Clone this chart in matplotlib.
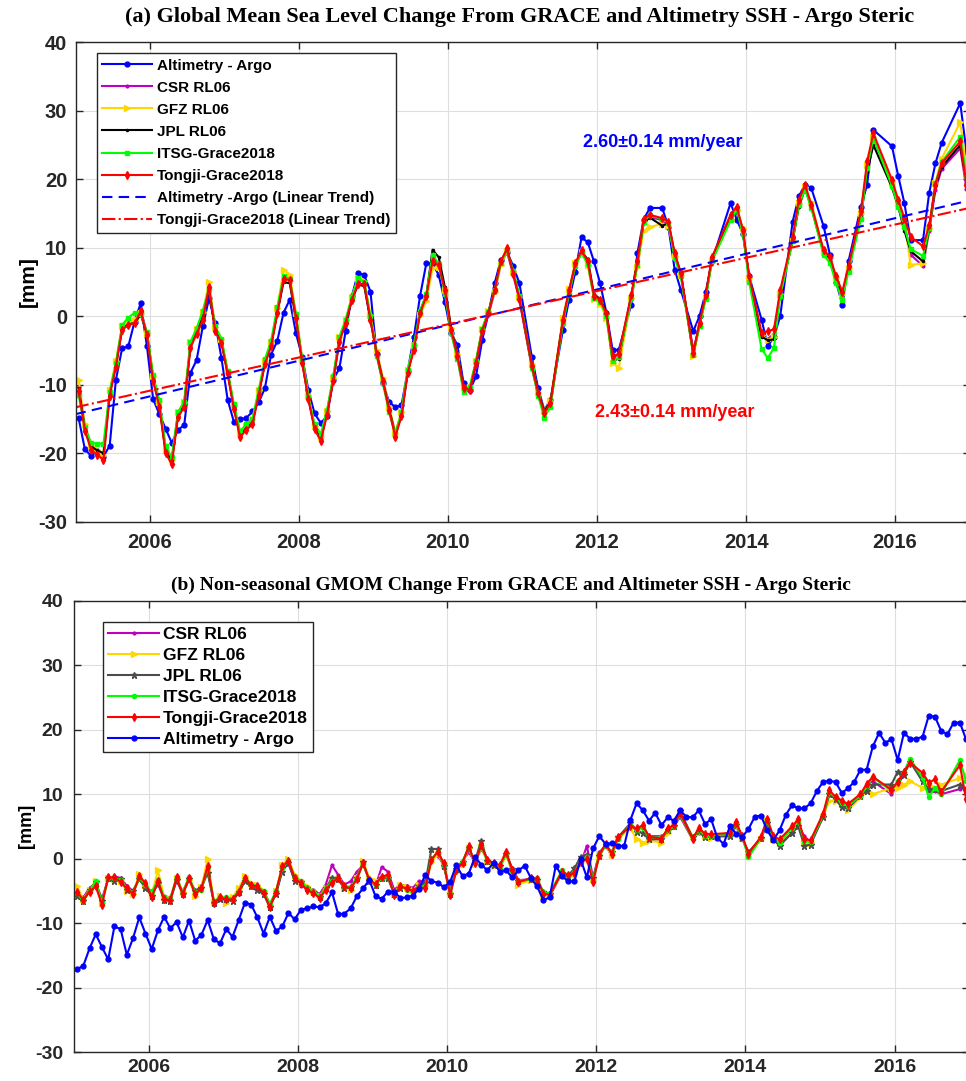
import numpy as np
import matplotlib.pyplot as plt

plt.rcParams['font.family'] = ['Liberation Sans', 'DejaVu Sans']
plt.rcParams['font.weight'] = 'bold'
plt.rcParams['axes.labelweight'] = 'bold'
plt.rcParams['axes.unicode_minus'] = False

# monthly time axis, 2005-2016 (mid-month, decimal years)
years = np.arange(2005, 2017)
t = (years[:, None] + (np.arange(12) + 0.5) / 12).ravel()

# ---------------- (a) GMSL change, mm (None = GRACE gap month) ----------------
alt_a = [
    -14.9, -19.4, -20.4, -19.7, -20.5, -18.9, -9.3, -4.7, -4.4, -0.8, 1.9, -4.4,
    -12.1, -14.3, -16.4, -18.5, -16.6, -15.9, -8.3, -6.4, -1.5, 2.6, -1.0, -6.1,
    -12.2, -15.4, -15.0, -14.9, -13.9, -12.6, -10.5, -5.6, -3.6, 0.5, 2.4, -2.5,
    -5.9, -10.8, -14.2, -15.6, -14.6, -9.3, -7.6, -2.2, 2.9, 6.3, 6.0, 3.6,
    -5.5, -9.8, -12.5, -13.3, -13.0, -8.0, -3.0, 3.0, 7.7, 7.7, 6.0, 2.0,
    -2.5, -4.2, -9.8, -10.8, -8.8, -3.5, 0.4, 4.8, 8.2, 9.4, 7.3, 4.8,
    None, -6.0, -10.5, -13.7, -12.2, None, -2.0, 2.4, 6.5, 11.5, 10.8, 8.0,
    4.8, 0.5, -4.9, -4.9, None, 1.7, 9.2, 14.1, 15.8, None, 15.8, 13.0,
    6.8, 3.8, None, -2.2, 0.0, 3.5, 8.0, None, None, 16.5, 14.1, 12.0,
    5.8, None, -0.5, -4.4, -3.0, 0.0, None, 13.8, 17.5, 19.2, 18.7, None,
    13.1, 9.0, 5.0, 1.7, 8.0, None, 16.0, 19.2, 27.2, None, None, 24.8,
    20.5, 16.5, 11.1, None, 11.1, 18.0, 22.3, 25.3, None, None, 31.1, 24.0]

csr_a = [
    -10.3, -16.0, -18.8, -19.8, -20.6, -11.2, -7.0, -1.7, -1.0, -0.6, 0.9, -2.5,
    -9.0, -12.8, -19.3, -21.0, -14.3, -12.8, -4.3, -2.2, -0.2, 3.6, -2.0, -3.6,
    -8.2, -13.2, -17.2, -16.2, -15.5, -11.2, -6.8, -4.0, 0.6, 5.6, 5.5, 0.0,
    -6.5, -11.8, -16.2, -17.8, -14.0, -9.0, -3.4, -0.8, 2.6, 5.0, 5.0, -0.3,
    -5.2, -9.2, -13.4, -17.0, -14.2, -8.0, -4.6, 0.6, 3.1, 8.3, 7.6, 3.5,
    -2.3, -6.0, -10.8, -11.0, -7.2, -2.5, 0.2, 3.5, 7.6, 9.4, 6.0, 2.3,
    None, -7.5, -11.5, -14.3, -13.0, None, -0.8, 3.5, 7.4, 9.3, 7.8, 2.8,
    2.2, 0.2, -6.0, -5.6, None, 2.8, 7.6, 13.7, 14.5, None, 14.0, 13.4,
    9.0, 6.0, None, -5.0, -1.2, 2.8, 8.2, None, None, 14.4, 15.6, 12.4,
    5.4, None, -2.9, -3.3, -2.6, 3.4, None, 11.2, 16.5, 18.7, 16.0, None,
    9.2, 8.3, 5.4, 3.0, 7.0, None, 14.8, 22.0, 26.0, None, None, 19.3,
    16.4, 13.6, 9.0, None, 7.3, 12.5, 18.4, 21.5, None, None, 24.5, 18.6]

gfz_a = [
    -9.3, -15.8, -19.0, -19.6, -20.3, -10.8, -6.6, -1.5, -1.0, -0.5, 0.4, -2.4,
    -8.8, -12.6, -19.5, -21.0, -14.0, -12.5, -3.8, -1.8, 0.6, 5.0, -1.6, -3.3,
    -8.0, -13.0, -17.0, -16.0, -15.0, -10.8, -6.5, -3.8, 1.2, 6.8, 6.0, 0.4,
    -6.2, -11.5, -16.0, -17.6, -13.8, -9.0, -3.1, -0.6, 2.8, 5.5, 5.2, 0.2,
    -5.0, -9.0, -13.2, -17.0, -14.0, -7.8, -4.2, 0.2, 2.2, 7.0, 7.2, 3.8,
    -1.7, -5.5, -10.3, -10.3, -6.5, -1.8, 0.7, 3.5, 7.5, 9.5, 6.5, 2.8,
    None, -7.0, -11.0, -13.8, -12.4, None, -0.2, 4.0, 7.8, 9.4, 7.5, 2.5,
    1.8, -0.2, -6.8, -7.6, None, 2.6, 7.2, 12.5, 13.0, None, 13.5, 13.2,
    8.8, 6.0, None, -5.8, -1.5, 2.6, 8.0, None, None, 14.0, 15.5, 12.8,
    5.5, None, -2.8, -3.5, -3.0, 3.2, None, 11.0, 16.5, 18.8, 16.6, None,
    9.4, 8.5, 5.5, 3.2, 7.0, None, 15.0, 22.0, 26.2, None, None, 19.5,
    16.5, 13.8, 7.5, None, 7.7, 12.8, 19.5, 23.0, None, None, 28.3, 21.5]

jpl_a = [
    -10.5, -16.3, -19.0, -19.6, -20.0, -11.3, -7.2, -1.8, -1.2, -1.0, 0.2, -2.5,
    -9.2, -13.0, -19.7, -21.0, -14.5, -13.0, -4.3, -2.3, 0.0, 3.8, -2.0, -3.7,
    -8.3, -13.3, -17.5, -16.3, -15.5, -11.3, -6.8, -4.2, 0.5, 5.0, 4.8, -0.4,
    -6.6, -12.0, -16.3, -18.0, -14.2, -9.3, -3.5, -0.9, 2.3, 4.6, 4.4, -0.6,
    -5.4, -9.4, -13.5, -17.3, -14.4, -8.2, -4.6, 0.8, 3.0, 9.7, 8.6, 4.2,
    -1.8, -5.6, -10.3, -10.6, -6.8, -2.0, 0.6, 3.9, 8.0, 9.6, 6.5, 2.7,
    None, -7.2, -11.0, -13.9, -12.5, None, -0.6, 3.6, 7.5, 9.4, 8.3, 3.2,
    2.5, 0.6, -6.5, -6.2, None, 2.9, 7.8, 13.6, 14.4, None, 13.2, 13.6,
    9.0, 6.3, None, -5.6, -1.1, 2.9, 8.4, None, None, 14.5, 15.2, 12.2,
    5.6, None, -3.0, -3.5, -3.4, 3.4, None, 11.0, 16.0, 18.6, 16.0, None,
    9.2, 8.5, 5.4, 3.0, 7.0, None, 14.5, 21.0, 25.0, None, None, 18.8,
    16.0, 12.5, 9.5, None, 8.0, 12.8, 19.0, 21.8, None, None, 25.0, 19.5]

itsg_a = [
    -11.5, -16.2, -18.5, -18.6, -18.6, -11.0, -6.9, -1.3, -0.2, 0.5, 0.3, -2.3,
    -8.6, -12.3, -19.0, -20.6, -14.0, -12.5, -3.8, -1.8, 0.8, 4.0, -1.5, -3.3,
    -8.0, -12.8, -16.8, -15.8, -15.0, -10.8, -6.3, -3.6, 1.3, 5.8, 5.4, 0.3,
    -6.2, -11.8, -15.8, -17.2, -13.8, -8.8, -3.0, -0.5, 2.8, 5.5, 5.0, 0.0,
    -5.8, -9.8, -14.0, -17.2, -14.0, -7.8, -4.2, 0.8, 3.2, 9.0, 7.6, 3.3,
    -2.5, -6.2, -11.0, -10.3, -6.5, -1.8, 0.6, 3.8, 7.8, 9.6, 6.6, 2.9,
    None, -7.6, -11.6, -14.8, -13.2, None, -1.0, 3.3, 7.3, 9.2, 7.6, 2.7,
    2.1, 0.0, -6.5, -6.0, None, 2.6, 7.5, 13.8, 14.7, None, 14.2, 13.6,
    8.5, 5.8, None, -5.6, -1.5, 2.5, 8.0, None, None, 14.0, 15.5, 12.0,
    5.0, None, -4.8, -6.1, -4.6, 3.0, None, 11.0, 16.2, 18.5, 15.8, None,
    8.9, 7.8, 4.8, 2.4, 6.5, None, 14.2, 21.6, 26.0, None, None, 19.0,
    16.0, 13.0, 9.8, None, 8.8, 12.8, 19.4, 22.5, None, None, 26.2, 20.5]

tongji_a = [
    -10.9, -16.7, -19.5, -20.2, -21.0, -11.6, -7.4, -2.0, -1.3, -1.0, 0.7, -2.8,
    -9.5, -13.2, -20.0, -21.6, -14.7, -13.3, -4.6, -2.6, -0.5, 4.3, -2.2, -3.9,
    -8.5, -13.5, -17.7, -16.6, -15.8, -11.5, -7.0, -4.4, 0.4, 5.4, 5.3, -0.2,
    -6.8, -12.1, -16.5, -18.2, -14.4, -9.5, -3.7, -1.0, 2.4, 4.7, 4.7, -0.5,
    -5.5, -9.5, -13.7, -17.6, -14.6, -8.3, -4.9, 0.4, 2.9, 8.0, 7.4, 3.8,
    -2.0, -5.8, -10.5, -10.8, -6.9, -2.2, 0.4, 3.8, 8.0, 9.9, 6.2, 2.5,
    None, -7.3, -11.2, -14.1, -12.7, None, -0.5, 3.8, 7.7, 9.6, 8.0, 3.0,
    2.4, 0.4, -5.8, -5.5, None, 3.1, 8.0, 14.2, 14.8, None, 14.3, 13.8,
    9.2, 6.3, None, -5.4, -1.0, 3.1, 8.6, None, None, 14.8, 16.0, 12.6,
    5.8, None, -2.4, -2.2, -1.9, 3.8, None, 11.6, 17.0, 19.2, 16.3, None,
    9.6, 8.7, 5.8, 3.6, 7.3, None, 15.3, 22.6, 26.7, None, None, 19.9,
    17.0, 14.3, 11.6, None, 10.2, 13.3, 19.2, 22.3, None, None, 25.5, 19.2]

# linear trends: values at 2005.0 and 2017.0
trend_years = [2005, 2017]
alt_trend = [-14.3, 16.9]
tongji_trend = [-13.3, 15.8]

# ---------------- (b) non-seasonal GMOM change, mm ----------------
csr_b = [
    -5.5, -6.0, -4.5, -3.8, -6.2, -3.2, -2.7, -3.0, -4.2, -5.0, -3.0, -4.5,
    -5.0, -4.0, -5.8, -6.0, -3.5, -5.0, -3.2, -5.0, -4.3, -1.8, -6.5, -6.3,
    -6.5, -6.0, -5.5, -3.3, -4.0, -4.5, -5.0, -7.0, -5.5, -1.5, -0.8, -3.2,
    -4.2, -4.5, -4.8, -5.5, -4.0, -1.0, -2.5, -4.0, -3.5, -2.0, -1.0, -3.0,
    -4.2, -1.3, -2.0, -4.8, -4.0, -4.2, -4.5, -3.5, -3.5, 0.0, 0.5, -1.0,
    -5.0, -1.5, -0.3, 1.0, -0.5, 1.5, 0.0, -0.8, -1.3, 0.8, -1.5, -3.3,
    None, -3.2, -3.5, -5.2, -5.8, None, -2.3, -3.0, -2.0, -0.8, 2.0, -3.0,
    1.0, 2.0, 0.5, 3.0, None, 5.5, 4.5, 5.0, 3.5, None, 3.5, 4.2,
    5.0, 6.5, None, 3.0, 4.0, 3.5, 3.6, None, None, 3.5, 5.0, 3.0,
    1.0, None, 3.0, 5.5, 3.0, 2.5, None, 4.0, 5.0, 3.5, 2.5, None,
    6.5, 10.0, 9.5, 9.0, 8.0, None, 9.5, 11.5, 12.0, None, None, 10.0,
    11.5, 13.0, 15.5, None, 12.0, 10.5, 10.5, 10.0, None, None, 10.8, 11.0]

gfz_b = [
    -4.3, -6.2, -4.8, -3.5, -6.8, -3.0, -3.2, -3.4, -5.0, -5.5, -2.3, -4.0,
    -5.6, -1.8, -6.0, -6.2, -3.0, -5.2, -3.3, -5.8, -4.4, 0.0, -6.7, -5.8,
    -6.8, -6.0, -4.5, -2.7, -3.8, -4.0, -5.0, -7.2, -5.0, -1.0, 0.0, -2.5,
    -3.5, -4.2, -5.0, -5.8, -4.5, -3.2, -3.2, -4.5, -4.8, -3.0, -0.3, -3.0,
    -3.5, -3.0, -2.8, -5.4, -4.0, -4.4, -4.8, -4.0, -4.0, -0.5, 0.8, -1.0,
    -5.3, -2.0, -0.8, 1.6, -0.8, 1.8, -0.5, -1.2, -1.5, 0.5, -2.0, -4.0,
    None, -3.3, -3.5, -5.6, -5.4, None, -2.5, -2.8, -2.4, -0.3, 0.5, -3.2,
    0.3, 2.0, 0.6, 3.0, None, 4.8, 3.0, 2.5, 2.8, None, 2.5, 4.0,
    5.0, 7.0, None, 3.5, 4.2, 3.5, 3.2, None, None, 3.5, 5.0, 3.2,
    0.5, None, 3.0, 5.8, 3.0, 2.5, None, 4.5, 5.5, 2.5, 2.5, None,
    6.5, 9.0, 9.0, 8.5, 7.5, None, 9.5, 10.5, 10.0, None, None, 11.0,
    11.0, 11.5, 12.0, None, 11.0, 11.5, 11.0, 11.5, None, None, 12.5, 13.0]

jpl_b = [
    -5.8, -6.5, -4.8, -3.6, -6.6, -3.0, -3.5, -3.2, -4.8, -5.0, -3.2, -4.5,
    -5.8, -3.8, -6.4, -6.5, -3.3, -5.5, -3.2, -5.0, -4.5, -2.2, -6.8, -6.3,
    -6.3, -6.6, -5.2, -3.4, -4.2, -4.8, -5.5, -7.5, -5.4, -2.0, -0.6, -3.5,
    -3.6, -4.6, -5.2, -6.0, -4.6, -3.0, -3.2, -4.6, -4.4, -3.0, -0.5, -3.5,
    -4.0, -3.0, -3.0, -5.5, -4.5, -4.6, -5.0, -4.2, -3.8, 1.5, 1.5, -1.2,
    -5.4, -1.6, -0.5, 1.7, -0.4, 2.8, -0.4, -0.9, -1.2, 0.8, -1.6, -3.5,
    None, -3.2, -3.3, -5.2, -5.5, None, -2.2, -2.6, -1.5, 0.3, 0.6, -3.0,
    0.4, 2.2, 1.0, 3.3, None, 5.5, 4.2, 4.0, 3.0, None, 3.0, 4.5,
    5.0, 7.4, None, 3.3, 4.3, 3.3, 3.5, None, None, 3.5, 5.3, 3.2,
    1.0, None, 3.2, 5.5, 3.0, 2.0, None, 4.0, 5.0, 2.0, 2.2, None,
    6.5, 10.0, 9.2, 8.0, 7.8, None, 9.8, 10.5, 11.5, None, None, 11.5,
    13.5, 13.0, 15.0, None, 12.0, 10.8, 10.8, 10.5, None, None, 11.5, 10.5]

itsg_b = [
    -5.3, -6.6, -5.0, -3.5, -6.8, -3.0, -3.0, -3.3, -4.5, -5.3, -3.0, -4.0,
    -5.2, -3.3, -6.0, -6.2, -2.8, -5.3, -2.8, -5.2, -4.8, -1.3, -6.6, -6.0,
    -6.0, -6.2, -5.0, -3.0, -4.0, -4.2, -5.0, -7.0, -5.0, -1.4, -0.3, -2.8,
    -3.5, -4.6, -5.0, -5.8, -4.6, -3.5, -3.0, -4.2, -4.4, -3.0, -0.8, -3.4,
    -4.0, -3.0, -2.6, -5.4, -4.2, -4.8, -5.2, -4.3, -4.3, 0.0, 1.0, -0.8,
    -5.4, -1.6, -0.4, 1.8, -0.6, 1.9, -0.4, -0.8, -1.3, 0.8, -1.9, -3.4,
    None, -3.2, -3.0, -5.2, -5.4, None, -1.8, -2.7, -2.0, -0.6, 0.3, -3.3,
    0.7, 2.0, 1.0, 3.0, None, 5.3, 4.5, 4.8, 3.3, None, 3.3, 4.4,
    5.0, 6.8, None, 3.0, 4.5, 3.6, 3.6, None, None, 3.8, 5.5, 3.3,
    0.2, None, 3.2, 6.0, 3.2, 2.5, None, 4.8, 5.8, 2.8, 2.6, None,
    6.8, 10.3, 9.5, 8.6, 8.2, None, 9.8, 11.2, 12.6, None, None, 10.5,
    12.0, 13.5, 15.5, None, 12.5, 9.5, 11.0, 10.0, None, None, 15.3, 12.0]

tongji_b = [
    -5.1, -6.4, -5.1, -4.3, -7.1, -2.9, -2.9, -3.6, -4.6, -5.5, -2.7, -3.8,
    -5.9, -3.5, -6.3, -6.4, -2.9, -5.5, -3.0, -5.5, -4.6, -1.1, -6.9, -6.0,
    -6.3, -6.3, -5.1, -3.0, -4.1, -4.3, -5.3, -7.5, -5.1, -1.2, -0.3, -3.0,
    -3.8, -4.9, -5.3, -6.1, -4.9, -3.7, -3.0, -4.3, -4.6, -3.2, -0.7, -3.3,
    -3.9, -2.8, -2.5, -5.6, -4.3, -4.6, -5.0, -4.4, -4.6, -0.2, 1.1, -0.7,
    -5.6, -1.8, -0.6, 1.9, -0.7, 2.1, -0.2, -0.7, -1.0, 1.1, -1.8, -3.6,
    None, -3.0, -3.1, -5.4, -5.6, None, -2.0, -2.5, -2.2, -0.5, -0.1, -3.6,
    0.6, 2.3, 0.8, 3.4, None, 5.0, 4.7, 5.2, 3.4, None, 3.1, 4.7,
    5.2, 7.1, None, 3.1, 4.7, 3.9, 3.8, None, None, 4.0, 5.7, 3.5,
    0.8, None, 3.4, 6.2, 3.5, 3.0, None, 5.0, 6.1, 3.0, 2.9, None,
    7.0, 10.6, 9.6, 9.0, 8.5, None, 10.0, 11.6, 12.7, None, None, 10.7,
    11.9, 13.5, 14.9, None, 13.3, 11.8, 12.3, 10.4, None, None, 14.5, 9.3]

alt_b = [
    -17.1, -16.6, -13.9, -11.7, -13.7, -15.6, -10.5, -10.9, -14.9, -12.3, -9.1, -11.6,
    -14.0, -11.1, -9.0, -10.8, -9.8, -12.2, -9.6, -12.7, -11.8, -9.5, -12.5, -13.1,
    -10.9, -12.1, -9.5, -6.8, -7.1, -9.1, -11.6, -9.0, -11.2, -10.5, -8.4, -9.4,
    -7.9, -7.7, -7.4, -7.5, -6.9, -5.2, -8.6, -8.5, -7.7, -5.8, -4.6, -3.3,
    -5.8, -6.2, -5.1, -5.1, -6.1, -6.0, -5.7, -4.7, -2.5, -3.5, -3.7, -4.4,
    -3.6, -1.0, -2.7, -2.3, 0.3, -0.9, -1.8, -0.6, -2.0, -1.8, -2.9, -1.8,
    -1.1, -3.0, -4.3, -6.4, -6.0, -1.1, -2.7, -3.5, -3.5, -0.1, -2.9, 1.6,
    3.5, 2.3, 2.4, 2.0, 2.0, 6.0, 8.6, 7.5, 5.9, 7.1, 5.2, 6.4,
    5.9, 7.5, 6.5, 6.4, 7.5, 5.4, 6.1, 3.2, 2.3, 5.0, 3.9, 3.4,
    4.6, 6.5, 6.7, 4.4, 2.9, 4.4, 6.8, 8.3, 7.8, 7.8, 8.6, 10.5,
    11.9, 12.1, 11.9, 10.2, 10.9, 11.9, 13.8, 13.8, 17.4, 19.5, 18.0, 18.5,
    15.3, 19.5, 18.6, 18.6, 18.9, 22.2, 22.0, 19.8, 19.3, 21.1, 21.1, 18.5]


def valid(vals):
    # drop gap months so the line joins across them
    y = np.array(vals, dtype=float)
    ok = ~np.isnan(y)
    return t[ok], y[ok]


def style(ax, fs, xpad, ypad):
    ax.set_xlim(2005, 2017)
    ax.set_ylim(-30, 40)
    ax.set_xticks(range(2006, 2017, 2))
    ax.set_yticks(range(-30, 41, 10))
    ax.grid(True, color='#dedede', lw=0.8)
    ax.set_axisbelow(True)
    ax.tick_params(direction='in', top=True, right=True, length=5, width=1,
                   labelsize=fs, colors='#262626')
    ax.tick_params(axis='x', pad=xpad)
    ax.tick_params(axis='y', pad=ypad)
    for s in ax.spines.values():
        s.set_color('#262626')
        s.set_linewidth(1.0)


fig = plt.figure(figsize=(9.66, 10.81), dpi=100)

# ---- panel (a)
ax1 = fig.add_axes([0.0782, 0.5174, 0.9255, 0.4436])
style(ax1, 14.5, 8, 6)
lw = 1.5
ax1.plot(*valid(alt_a), color='b', lw=lw, marker='o', ms=3.5, label='Altimetry - Argo')
ax1.plot(*valid(csr_a), color='m', lw=lw, marker='.', ms=4, label='CSR RL06')
ax1.plot(*valid(gfz_a), color='#ffd700', lw=lw, marker='>', ms=4, label='GFZ RL06')
ax1.plot(*valid(jpl_a), color='k', lw=lw, marker='.', ms=3, label='JPL RL06')
ax1.plot(*valid(itsg_a), color='#00ff00', lw=lw, marker='s', ms=3.5, label='ITSG-Grace2018')
ax1.plot(*valid(tongji_a), color='r', lw=lw, marker='d', ms=4, label='Tongji-Grace2018')
ax1.plot(trend_years, alt_trend, color='b', lw=1.5, ls=(0, (5, 3)),
         label='Altimetry -Argo (Linear Trend)')
ax1.plot(trend_years, tongji_trend, color='r', lw=1.5, ls='-.',
         label='Tongji-Grace2018 (Linear Trend)')
ax1.text(2011.81, 25.3, '2.60\u00b10.14 mm/year', color='b', fontsize=13,
         fontweight='bold', va='center')
ax1.text(2011.97, -14.1, '2.43\u00b10.14 mm/year', color='r', fontsize=13,
         fontweight='bold', va='center')
leg1 = ax1.legend(loc='upper left', bbox_to_anchor=(0.0237, 0.977), borderaxespad=0,
                  prop={'weight': 'bold', 'size': 11}, fancybox=False,
                  edgecolor='#262626', framealpha=1, handlelength=3.3,
                  handletextpad=0.3, labelspacing=0.53, borderpad=0.35)
leg1.get_frame().set_linewidth(1.0)
fig.text(520 / 966, 1 - 17 / 1081,
         '(a) Global Mean Sea Level Change From GRACE and Altimetry SSH - Argo Steric',
         family='Liberation Serif', fontweight='bold', fontsize=16,
         ha='center', va='center')
fig.text(28 / 966, 1 - 282 / 1081, '[mm]', rotation=90, fontsize=15,
         fontweight='bold', ha='center', va='center')

# ---- panel (b)
ax2 = fig.add_axes([0.0766, 0.02655, 0.9267, 0.4178])
style(ax2, 14, 5, 8)
ax2.plot(*valid(csr_b), color='m', lw=lw, marker='.', ms=4, label='CSR RL06')
ax2.plot(*valid(gfz_b), color='#ffd700', lw=lw, marker='>', ms=4, label='GFZ RL06')
ax2.plot(*valid(jpl_b), color='#4d4d4d', lw=lw, marker='*', ms=5, label='JPL RL06')
ax2.plot(*valid(itsg_b), color='#00ff00', lw=lw, marker='o', ms=3, label='ITSG-Grace2018')
ax2.plot(*valid(tongji_b), color='r', lw=lw, marker='d', ms=4, label='Tongji-Grace2018')
ax2.plot(t, alt_b, color='b', lw=lw, marker='o', ms=3.5, label='Altimetry - Argo')
leg2 = ax2.legend(loc='upper left', bbox_to_anchor=(0.0327, 0.953), borderaxespad=0,
                  prop={'weight': 'bold', 'size': 12.5}, fancybox=False,
                  edgecolor='#262626', framealpha=1, handlelength=2.9,
                  handletextpad=0.25, labelspacing=0.33, borderpad=0.3)
leg2.get_frame().set_linewidth(1.0)
fig.text(511 / 966, 1 - 585 / 1081,
         '(b) Non-seasonal GMOM Change From GRACE and Altimeter SSH - Argo Steric',
         family='Liberation Serif', fontweight='bold', fontsize=14,
         ha='center', va='center')
fig.text(26 / 966, 1 - 826 / 1081, '[mm]', rotation=90, fontsize=13,
         fontweight='bold', ha='center', va='center')

fig.savefig('out.png', dpi=100)
